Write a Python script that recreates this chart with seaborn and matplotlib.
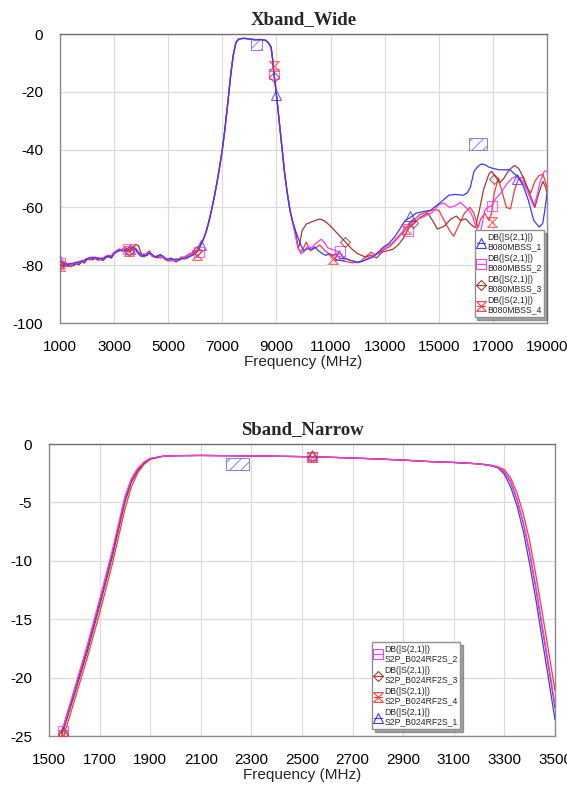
import numpy as np
import pandas as pd
import matplotlib
matplotlib.use("Agg")
import matplotlib.pyplot as plt
import seaborn as sns
from matplotlib.lines import Line2D
from matplotlib.path import Path
from matplotlib.font_manager import FontProperties

# ---------------- Xband_Wide data ----------------
low_f = list(range(1000, 6001, 100))
low_b1 = [-78.5, -79.6, -79.2, -79.8, -79.3, -79.6, -78.9, -79.2, -78.4, -78.6,
          -77.8, -77.3, -77.6, -77.2, -77.8, -77.5, -77.9, -77.1, -76.8, -77.2,
          -76.1, -75.2, -74.8, -75.1, -74.6, -75.0, -74.3, -73.8, -74.5, -75.8,
          -77.0, -76.4, -76.8, -75.9, -76.2, -77.1, -76.9, -76.3, -76.8, -77.6,
          -77.9, -77.5, -78.1, -77.8, -78.2, -77.6, -77.9, -77.3, -77.0, -76.6, -76.0]
low_b2 = [-79.2, -79.0, -79.8, -79.3, -79.9, -79.1, -79.4, -78.6, -78.9, -78.1,
          -77.6, -77.9, -77.1, -77.7, -77.3, -78.0, -77.4, -77.0, -76.5, -76.9,
          -75.7, -74.9, -74.3, -74.8, -73.9, -74.5, -74.8, -74.1, -75.0, -76.2,
          -76.7, -76.0, -76.5, -75.6, -76.6, -77.3, -76.6, -76.9, -77.2, -77.9,
          -78.3, -77.7, -78.5, -77.9, -78.4, -77.7, -77.4, -76.9, -76.4, -76.1, -75.5]
low_b3 = [-79.8, -80.3, -79.6, -80.5, -79.8, -80.2, -79.5, -79.9, -78.8, -79.3,
          -78.0, -77.6, -78.2, -77.5, -78.3, -77.8, -78.4, -77.3, -76.9, -77.6,
          -75.9, -75.4, -75.0, -74.4, -75.2, -74.7, -75.4, -74.2, -72.8, -73.3,
          -75.9, -77.2, -76.0, -75.1, -76.4, -77.0, -77.5, -76.6, -77.2, -78.0,
          -78.6, -77.8, -78.4, -78.9, -78.1, -77.8, -77.2, -77.6, -76.8, -76.2, -75.4]
low_b4 = [-80.2, -79.5, -80.4, -79.7, -80.6, -79.9, -79.3, -79.7, -78.9, -78.3,
          -77.9, -78.2, -77.4, -77.9, -77.6, -78.3, -77.6, -76.8, -77.3, -76.6,
          -75.5, -75.0, -74.6, -74.9, -74.2, -75.1, -74.5, -73.6, -74.2, -75.4,
          -76.3, -76.9, -76.1, -75.7, -76.9, -77.2, -76.8, -77.6, -77.0, -78.2,
          -78.0, -78.6, -77.9, -78.3, -77.8, -77.1, -77.3, -76.5, -76.0, -75.7, -75.2]

# passband, shared by the four parts
mid_f = [6100, 6200, 6300, 6400, 6500, 6600, 6700, 6800, 6900, 7000, 7100, 7200,
         7300, 7400, 7500, 7600, 7700, 7800, 8000, 8200, 8400, 8600, 8700, 8800,
         8850, 8900, 8950, 9000, 9100, 9200, 9300, 9400, 9500, 9600]
mid_db = [-75.0, -73.0, -71.0, -68.5, -65.0, -61.0, -56.5, -51.5, -46.0, -40.0,
          -32.5, -24.0, -15.0, -7.5, -3.0, -1.8, -1.6, -1.5, -1.7, -2.0, -1.9,
          -2.2, -3.0, -4.5, -8.0, -13.0, -17.0, -21.0, -30.0, -39.0, -48.0, -55.0,
          -61.0, -65.0]

hi_f1 = [9700, 9800, 9900, 10000, 10150, 10300, 10420, 10550, 10700, 10820, 10950,
         11090, 11200, 11360, 11500, 11760, 12000, 12160, 12350, 12560, 12750, 12960,
         13150, 13360, 13560, 13760, 13950, 14160, 14400, 14700, 14900, 15100, 15370,
         15600, 15900, 16050, 16170, 16300, 16450, 16570, 16700, 16840, 17000, 17240,
         17640, 17910, 18100, 18310, 18510, 18710, 18840, 18920, 19000]
hi_b1 = [-68.0, -70.5, -73.0, -75.0, -74.3, -74.5, -73.7, -75.0, -76.0, -76.6, -76.0,
         -76.6, -76.0, -77.8, -77.5, -78.4, -78.9, -78.7, -78.0, -77.2, -75.5, -73.7,
         -72.5, -70.3, -67.5, -64.5, -63.5, -62.0, -61.5, -61.0, -59.5, -58.0, -55.8,
         -55.5, -55.8, -55.0, -53.0, -47.5, -45.8, -45.0, -45.2, -46.0, -46.5, -47.0,
         -47.0, -49.4, -52.0, -57.5, -64.5, -66.8, -65.6, -61.0, -55.2]

hi_f2 = [9700, 9800, 9900, 10000, 10150, 10300, 10450, 10650, 10800, 10900, 11050,
         11200, 11400, 11600, 11800, 12000, 12200, 12500, 12800, 13000, 13250, 13500,
         13750, 14000, 14250, 14500, 14800, 15000, 15200, 15400, 15600, 15800, 16000,
         16200, 16350, 16500, 16600, 16700, 16800, 16950, 17100, 17300, 17500, 17700,
         17900, 18100, 18300, 18500, 18600, 18750, 18900, 19000]
hi_b2 = [-70.0, -74.0, -76.0, -75.5, -73.5, -74.0, -72.5, -71.0, -72.5, -74.0, -74.5,
         -75.0, -76.5, -78.0, -78.5, -79.2, -78.5, -77.0, -75.5, -74.0, -72.5, -70.0,
         -67.5, -65.5, -64.0, -63.0, -61.5, -59.0, -58.5, -60.0, -59.5, -58.3, -60.0,
         -62.0, -66.0, -70.0, -66.0, -61.0, -60.0, -59.5, -57.0, -55.0, -52.0, -50.0,
         -49.0, -51.0, -55.0, -59.5, -57.0, -51.0, -47.5, -47.5]

hi_f3 = [9700, 9800, 9850, 9950, 10100, 10300, 10600, 10800, 11000, 11200, 11400,
         11600, 11800, 12000, 12300, 12500, 12700, 12900, 13100, 13300, 13500, 13700,
         13900, 14100, 14300, 14600, 14800, 14950, 15200, 15450, 15650, 15800, 16000,
         16200, 16350, 16500, 16650, 16850, 16950, 17100, 17250, 17400, 17600, 17800,
         17950, 18150, 18350, 18550, 18700, 18850, 18950, 19000]
hi_b3 = [-68.0, -74.0, -73.0, -68.0, -65.8, -65.0, -64.0, -64.8, -66.5, -68.5, -70.5,
         -72.5, -74.5, -76.0, -77.2, -76.5, -77.5, -75.5, -75.0, -74.5, -73.0, -70.5,
         -67.0, -65.5, -63.5, -62.0, -65.0, -67.5, -66.5, -64.0, -63.0, -64.5, -64.0,
         -66.0, -67.0, -61.0, -54.0, -48.5, -47.5, -49.5, -51.5, -50.0, -47.0, -45.5,
         -46.5, -50.0, -55.0, -60.0, -55.0, -51.0, -53.0, -55.0]

hi_f4 = [9700, 9800, 9900, 10000, 10100, 10250, 10450, 10600, 10800, 11000, 11200,
         11500, 11800, 12100, 12300, 12500, 12650, 12800, 13000, 13200, 13500, 13800,
         14000, 14300, 14600, 14800, 15000, 15200, 15400, 15550, 15750, 15950, 16150,
         16300, 16450, 16550, 16700, 16850, 16950, 17050, 17200, 17350, 17500, 17650,
         17800, 17950, 18100, 18250, 18400, 18550, 18700, 18850, 19000]
hi_b4 = [-69.0, -74.0, -75.5, -74.0, -72.0, -75.0, -74.0, -73.0, -75.0, -76.5, -78.0,
         -78.6, -79.2, -78.8, -77.0, -75.5, -76.5, -75.8, -74.5, -73.5, -70.5, -67.0,
         -65.0, -62.5, -61.5, -60.8, -61.0, -64.5, -68.0, -70.0, -66.0, -62.0, -60.0,
         -62.0, -67.0, -64.0, -62.0, -64.5, -62.0, -55.0, -50.0, -55.0, -60.0, -60.5,
         -54.0, -50.0, -49.5, -53.0, -55.0, -51.0, -49.0, -48.5, -53.0]

# marker points per trace
mk_f1 = [1000, 3600, 6200, 9000, 11300, 13950, 17900]
mk_b1 = [-78.5, -74.3, -73.0, -21.0, -76.3, -63.0, -50.0]
mk_f2 = [1000, 3500, 6150, 8900, 11350, 13850, 16950]
mk_b2 = [-79.2, -74.5, -75.5, -14.0, -75.0, -68.0, -59.5]
mk_f3 = [1000, 3550, 6050, 8900, 11550, 14050, 17050]
mk_b3 = [-79.8, -75.0, -75.0, -15.0, -72.0, -65.5, -50.0]
mk_f4 = [1000, 3550, 6050, 8900, 11100, 13800, 16950]
mk_b4 = [-80.2, -75.0, -76.5, -11.0, -78.0, -67.5, -65.0]

x_names = ["B080MBSS_1", "B080MBSS_2", "B080MBSS_3", "B080MBSS_4"]
x_limits = [(8050, 8450, -1.8, -5.5), (16100, 16800, -36.0, -40.0)]

# ---------------- Sband_Narrow data ----------------
s_f = [1550, 1600, 1650, 1700, 1750, 1800, 1825, 1850, 1875, 1900, 1950, 2000,
       2100, 2200, 2300, 2400, 2500, 2600, 2700, 2800, 2900, 3000, 3100, 3200,
       3250, 3275, 3300, 3325, 3350, 3375, 3400, 3425, 3450, 3475, 3500]
flat_db = [-1.05, -1.0, -0.98, -1.0, -1.02, -1.05, -1.08, -1.13, -1.2, -1.28,
           -1.38, -1.5, -1.58, -1.7]
s_b1 = ([-24.8, -21.2, -17.6, -13.6, -9.4, -4.7, -3.1, -2.15, -1.6, -1.25] + flat_db
        + [-1.88, -2.05, -2.6, -3.7, -5.3, -7.5, -10.3, -13.4, -16.8, -20.2, -23.6])
s_b2 = ([-24.6, -21.0, -17.3, -13.3, -9.1, -4.5, -3.0, -2.1, -1.55, -1.22] + flat_db
        + [-1.85, -2.0, -2.35, -3.2, -4.7, -6.7, -9.2, -12.3, -15.6, -18.9, -22.3])
s_b3 = ([-25.0, -21.5, -17.9, -13.9, -9.7, -5.0, -3.3, -2.3, -1.65, -1.28] + flat_db
        + [-1.86, -2.02, -2.4, -3.3, -4.8, -6.8, -9.4, -12.5, -15.8, -19.2, -22.6])
s_b4 = ([-25.6, -22.0, -18.4, -14.5, -10.3, -5.6, -3.7, -2.5, -1.75, -1.32] + flat_db
        + [-1.82, -1.95, -2.2, -2.9, -4.2, -6.0, -8.3, -11.3, -14.5, -17.8, -21.1])
s_mk_f = [1555, 2540]
s_mk_b1 = [-24.6, -0.95]
s_mk_b2 = [-24.6, -1.1]
s_mk_b3 = [-24.8, -1.1]
s_mk_b4 = [-24.9, -1.15]
s_names = ["S2P_B024RF2S_1", "S2P_B024RF2S_2", "S2P_B024RF2S_3", "S2P_B024RF2S_4"]
s_limits = [(2200, 2290, -1.2, -2.2)]

colors = ["#3b3bf5", "#f53cf5", "#a23838", "#f53b3b"]
hourglass = Path([(-1, 1), (1, 1), (-1, -1), (1, -1), (-1, 1)],
                 [Path.MOVETO, Path.LINETO, Path.LINETO, Path.LINETO, Path.CLOSEPOLY])
markers = ["^", "s", "D", hourglass]
msizes = [6.5, 7, 5.5, 7]

sns.set_theme(style="whitegrid")
plt.rcParams["font.family"] = ["Liberation Sans", "DejaVu Sans"]
plt.rcParams["axes.unicode_minus"] = False
plt.rcParams["hatch.linewidth"] = 0.7
plt.rcParams["hatch.color"] = "#7f7ff5"

leg_font = FontProperties(family="Liberation Sans", size=6.2)

fig = plt.figure(figsize=(5.67, 7.87), dpi=100)
ax1 = fig.add_axes([60 / 567, 1 - 323 / 787, 487 / 567, 289 / 787])
ax2 = fig.add_axes([49 / 567, 1 - 736 / 787, 506 / 567, 292 / 787])


def style_axes(ax, title):
    ax.set_facecolor("white")
    ax.grid(True, color="#dcdcdc", linewidth=0.9)
    for s in ax.spines.values():
        s.set_color("#8c8c8c")
        s.set_linewidth(1.0)
    ax.spines["top"].set_color("#707070")
    ax.tick_params(length=0, pad=12, labelsize=11, colors="black")
    ax.set_title(title, fontfamily="Liberation Serif", fontweight="bold",
                 fontsize=13.5, pad=7)
    ax.set_xlabel("Frequency (MHz)", fontsize=11, labelpad=1)
    ax.set_ylabel("")


def draw_limits(ax, limits):
    for f0, f1, top, bot in limits:
        ax.fill_between([f0, f1], [top, top], [bot, bot], facecolor="none",
                        edgecolor="#7f7ff5", hatch="///", linewidth=0.7, zorder=1)


def add_legend(ax, idx, names, anchor, loc):
    hs = [Line2D([], [], color=colors[i], marker=markers[i], markersize=msizes[i],
                 markerfacecolor="none", linewidth=0.8, markeredgewidth=0.8) for i in idx]
    leg = ax.legend(hs, ["DB(|S(2,1)|)\n" + names[i] for i in idx], loc=loc,
                    bbox_to_anchor=anchor, borderaxespad=0, prop=leg_font,
                    handlelength=0.9, handletextpad=0.25, labelspacing=0.32,
                    borderpad=0.3, frameon=True, fancybox=False, shadow=True,
                    edgecolor="#909090", framealpha=1)
    for t in leg.get_texts():
        t.set_linespacing(1.05)


# ---- top chart (blue drawn last, on top) ----
x_traces = [
    (low_f + mid_f + hi_f1, low_b1 + mid_db + hi_b1),
    (low_f + mid_f + hi_f2, low_b2 + mid_db + hi_b2),
    (low_f + mid_f + hi_f3, low_b3 + mid_db + hi_b3),
    (low_f + mid_f + hi_f4, low_b4 + mid_db + hi_b4),
]
rows = []
for name, (f, b) in zip(x_names, x_traces):
    rows.append(pd.DataFrame({"freq": f, "db": b, "trace": name}))
dfx = pd.concat(rows, ignore_index=True)
draw_limits(ax1, x_limits)
x_order = [3, 2, 1, 0]
sns.lineplot(data=dfx, x="freq", y="db", hue="trace",
             hue_order=[x_names[i] for i in x_order],
             palette=[colors[i] for i in x_order], estimator=None, sort=False,
             linewidth=0.9, legend=False, ax=ax1, zorder=3)
x_marks = [(mk_f1, mk_b1), (mk_f2, mk_b2), (mk_f3, mk_b3), (mk_f4, mk_b4)]
for (f, b), c, m, ms in zip(x_marks, colors, markers, msizes):
    ax1.plot(f, b, linestyle="none", marker=m, markersize=ms, markerfacecolor="none",
             markeredgecolor=c, markeredgewidth=0.8, alpha=0.8, zorder=4)
ax1.set_xlim(1000, 19000)
ax1.set_ylim(-100, 0)
ax1.set_xticks(range(1000, 19001, 2000))
ax1.set_yticks(range(-100, 1, 20))
style_axes(ax1, "Xband_Wide")
add_legend(ax1, [0, 1, 2, 3], x_names, (0.994, 0.02), "lower right")

# ---- bottom chart (magenta on top) ----
s_traces = [s_b1, s_b2, s_b3, s_b4]
rows = []
for name, b in zip(s_names, s_traces):
    rows.append(pd.DataFrame({"freq": s_f, "db": b, "trace": name}))
dfs = pd.concat(rows, ignore_index=True)
draw_limits(ax2, s_limits)
s_order = [0, 3, 2, 1]
sns.lineplot(data=dfs, x="freq", y="db", hue="trace",
             hue_order=[s_names[i] for i in s_order],
             palette=[colors[i] for i in s_order], estimator=None, sort=False,
             linewidth=0.9, legend=False, ax=ax2, zorder=3)
s_marks = [s_mk_b1, s_mk_b2, s_mk_b3, s_mk_b4]
for b, c, m, ms in zip(s_marks, colors, markers, msizes):
    ax2.plot(s_mk_f, b, linestyle="none", marker=m, markersize=ms, markerfacecolor="none",
             markeredgecolor=c, markeredgewidth=0.8, alpha=0.8, zorder=4)
ax2.set_xlim(1500, 3500)
ax2.set_ylim(-25, 0)
ax2.set_xticks(range(1500, 3501, 200))
ax2.set_yticks(range(-25, 1, 5))
style_axes(ax2, "Sband_Narrow")
add_legend(ax2, [1, 2, 3, 0], s_names, (0.638, 0.024), "lower left")

fig.savefig("out.png", dpi=100)
